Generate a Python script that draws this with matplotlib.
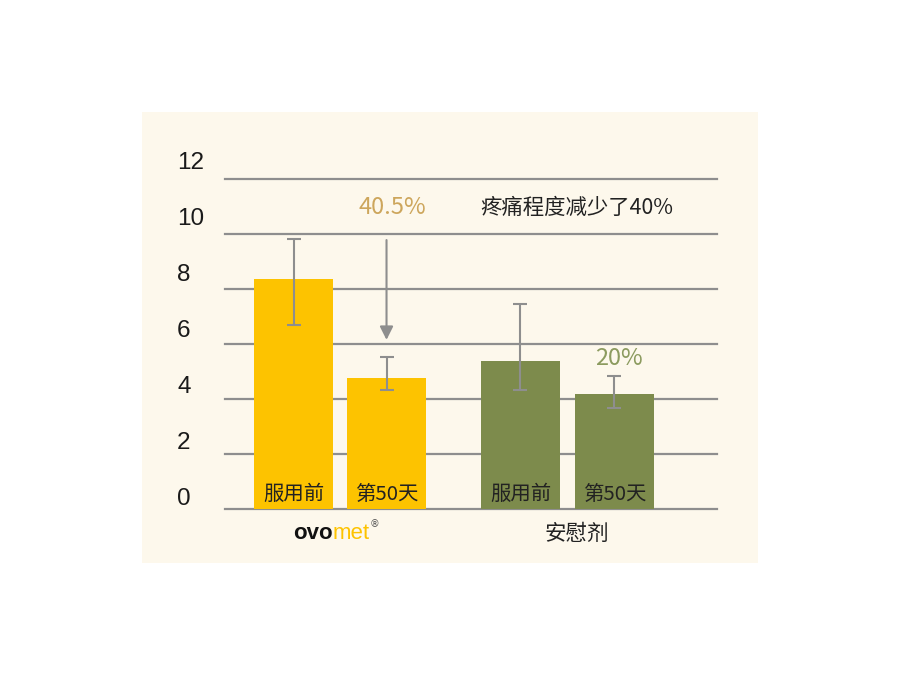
import matplotlib
matplotlib.use("Agg")
import matplotlib.pyplot as plt
from matplotlib.patches import Rectangle

plt.rcParams['font.family'] = ['Noto Sans CJK SC', 'DejaVu Sans']

# ---- data ----
groups = ["ovomet", "安慰剂"]
bar_labels = ["服用前", "第50天", "服用前", "第50天"]
values = [8.36, 4.76, 5.37, 4.17]
err_low = [1.68, 0.43, 1.04, 0.50]
err_high = [1.45, 0.77, 2.10, 0.68]
y_ticks = [0, 2, 4, 6, 8, 10, 12]
pct_labels = ["40.5%", "20%"]
note_text = "疼痛程度减少了40%"
arrow_from, arrow_to = 9.78, 6.15

yellow = "#FDC300"
green = "#7D8B4C"
grid_c = "#8E8E8E"
bar_colors = [yellow, yellow, green, green]
positions = [0, 1, 2.44, 3.45]

fig = plt.figure(figsize=(9, 6.75), dpi=100)
fig.patch.set_facecolor("white")
panel = Rectangle((142/900, (675-563)/675), 616/900, 451/675,
                  transform=fig.transFigure, facecolor="#FDF8EC",
                  edgecolor="none", zorder=-10)
fig.add_artist(panel)

ax = fig.add_axes([225/900, (675-509)/675, 492/900, 330/675])
ax.set_zorder(5)
ax.set_facecolor("none")
ax.set_xlim(-0.737, 4.554)
ax.set_ylim(0, 12)
for s in ax.spines.values():
    s.set_visible(False)
ax.set_xticks([])
ax.set_yticks([])

for t in y_ticks:
    ax.axhline(t, color=grid_c, lw=1.6, zorder=1, clip_on=False)
    ax.annotate(str(t), xy=(-48/492, t), xycoords=ax.get_yaxis_transform(),
                xytext=(0, 10 + t*0.5), textcoords="offset pixels",
                ha="left", va="center", fontsize=17.5, color="#1a1a1a",
                family=["Liberation Sans", "DejaVu Sans"], annotation_clip=False)

ax.bar(positions, values, width=0.85, color=bar_colors, zorder=2)
ax.errorbar(positions, values, yerr=[err_low, err_high], fmt="none",
            ecolor=grid_c, elinewidth=1.5, capsize=5, capthick=1.5, zorder=3)

for p, lab in zip(positions, bar_labels):
    ax.annotate(lab, xy=(p, 0), xytext=(0, 15), textcoords="offset pixels",
                ha="center", va="center", fontsize=14.7, color="#222222")

# arrow
ax.annotate("", xy=(positions[1], arrow_to), xytext=(positions[1], arrow_from),
            arrowprops=dict(arrowstyle="-|>", color=grid_c, lw=1.5,
                            mutation_scale=20, shrinkA=0, shrinkB=0), zorder=4)

ax.text(positions[1] + 0.06, 10.95, pct_labels[0], ha="center", va="center",
        fontsize=17, color="#CDA65C", fontweight="light")
ax.text(3.05, 10.95, note_text, ha="center", va="center",
        fontsize=15.4, color="#222222")
ax.text(positions[3] + 0.05, values[3] + err_high[3] + 0.64, pct_labels[1],
        ha="center", va="center", fontsize=17, color="#8C9B5F", fontweight="light")

# group labels
g1 = (positions[0] + positions[1]) / 2
g2 = (positions[2] + positions[3]) / 2
ax.annotate("ovo", xy=(g1, 0), xytext=(-7, -30), textcoords="offset pixels",
            ha="right", va="baseline", fontsize=16, color="#111111",
            family=["Liberation Sans"], fontweight="bold", annotation_clip=False)
ax.annotate("met", xy=(g1, 0), xytext=(-7, -30), textcoords="offset pixels",
            ha="left", va="baseline", fontsize=16, color="#FDC300",
            family=["Liberation Sans"], annotation_clip=False)
ax.annotate("®", xy=(g1, 0), xytext=(30, -15), textcoords="offset pixels",
            ha="left", va="center", fontsize=7, color="#555555",
            family=["DejaVu Sans"], annotation_clip=False)
ax.annotate(groups[1], xy=(g2 + 0.1, 0), xytext=(0, -25), textcoords="offset pixels",
            ha="center", va="center", fontsize=15.5, color="#222222",
            annotation_clip=False)

fig.savefig("out.png", dpi=100, facecolor="white")
